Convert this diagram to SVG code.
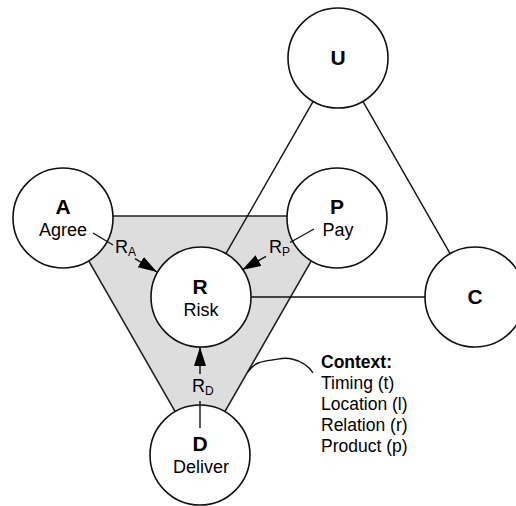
<svg xmlns="http://www.w3.org/2000/svg" width="516" height="506" viewBox="0 0 516 506">
<style>
  .bg { fill: #ffffff; }
  .tri { fill: #dddddd; stroke: #222222; stroke-width: 1.6; stroke-linejoin: miter; }
  .node { fill: #ffffff; stroke: #111111; stroke-width: 1.6; }
  .line { fill: none; stroke: #111111; stroke-width: 1.4; }
  .t { font-family: "Liberation Sans", Arial, sans-serif; fill: #000000; }
  .key { font-size: 21px; font-weight: bold; text-anchor: middle; }
  .lab { font-size: 18px; text-anchor: middle; }
  .rl { font-size: 18px; }
  .sub { font-size: 12px; }
  .ctx { font-size: 17.5px; }
  .ctxh { font-size: 17.5px; font-weight: bold; }
</style>
<defs>
  <marker id="ah" markerUnits="userSpaceOnUse" markerWidth="20" markerHeight="12" refX="19" refY="6" orient="auto">
    <path d="M0,0 L19,6 L0,12 Z" fill="#000000"/>
  </marker>
</defs>
<rect class="bg" x="0" y="0" width="516" height="506"/>
<polygon id="context-triangle" class="tri" points="63,216 337,216 200,455"/>

<g id="node-U">
  <circle class="node" cx="338" cy="58" r="50"/>
  <text class="t key" x="338" y="65">U</text>
</g>
<g id="node-A">
  <circle class="node" cx="63" cy="218" r="50"/>
  <text class="t key" x="63" y="214">A</text>
  <text class="t lab" x="63" y="236">Agree</text>
</g>
<g id="node-P">
  <circle class="node" cx="337" cy="218" r="50"/>
  <text class="t key" x="337" y="214">P</text>
  <text class="t lab" x="338" y="236">Pay</text>
</g>
<g id="node-R">
  <circle class="node" cx="201" cy="297" r="50"/>
  <text class="t key" x="200" y="294">R</text>
  <text class="t lab" x="201" y="316">Risk</text>
</g>
<g id="node-C">
  <circle class="node" cx="475" cy="297" r="50"/>
  <text class="t key" x="475" y="304">C</text>
</g>
<g id="node-D">
  <circle class="node" cx="200" cy="455" r="50"/>
  <text class="t key" x="200" y="451">D</text>
  <text class="t lab" x="201" y="473">Deliver</text>
</g>

<g id="connectors">
  <line class="line" x1="225.9" y1="253.6" x2="313.1" y2="101.4"/>
  <line class="line" x1="362.9" y1="101.4" x2="450.1" y2="253.6"/>
  <line class="line" x1="251" y1="297" x2="425" y2="297"/>
  <!-- R_A -->
  <line class="line" x1="93" y1="233" x2="113" y2="245"/>
  <line class="line" x1="135" y1="258.6" x2="157" y2="272" marker-end="url(#ah)"/>
  <!-- R_P -->
  <line class="line" x1="314" y1="229" x2="290" y2="242.5"/>
  <line class="line" x1="266" y1="256.3" x2="242" y2="270" marker-end="url(#ah)"/>
  <!-- R_D -->
  <line class="line" x1="200" y1="428" x2="200" y2="401"/>
  <line class="line" x1="200" y1="374" x2="200" y2="347" marker-end="url(#ah)"/>
  <!-- context callout -->
  <path class="line" d="M248,372 C254,362 264,361 272,360 C280,359 284,357 292,359 C301,361 308,365 313,373"/>
</g>

<g id="labels">
  <text class="t rl" x="115" y="253">R<tspan class="sub" dy="3">A</tspan></text>
  <text class="t rl" x="269" y="253">R<tspan class="sub" dy="3">P</tspan></text>
  <text class="t rl" x="192" y="392">R<tspan class="sub" dy="3">D</tspan></text>
</g>

<g id="context-text">
  <text class="t ctxh" x="321" y="368">Context:</text>
  <text class="t ctx" x="321" y="389">Timing (t)</text>
  <text class="t ctx" x="321" y="410">Location (l)</text>
  <text class="t ctx" x="321" y="431">Relation (r)</text>
  <text class="t ctx" x="321" y="452">Product (p)</text>
</g>
</svg>
